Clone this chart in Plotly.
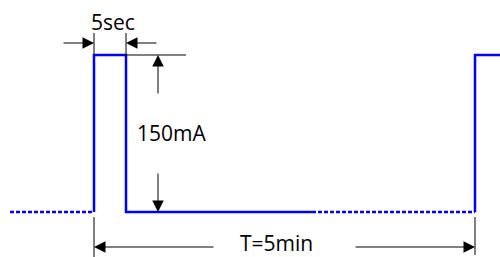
import plotly.graph_objects as go

# ---- data (time axis in arbitrary drawing units, current in mA) ----
LOW_MA = 0
HIGH_MA = 150
pulse_t = [94, 94, 126, 126, 312]
pulse_i = [LOW_MA, HIGH_MA, HIGH_MA, LOW_MA, LOW_MA]
idle_before_t = [10, 94]
idle_before_i = [LOW_MA, LOW_MA]
idle_after_t = [312, 475]
idle_after_i = [LOW_MA, LOW_MA]
next_t = [475, 475, 500]
next_i = [LOW_MA, HIGH_MA, HIGH_MA]

label_width = "5sec"
label_amp = "150mA"
label_period = "T=5min"

# pixel -> mA helper for the page layout (low at px 212, high at px 55)
def py(p):
    return (212 - p) * (HIGH_MA - LOW_MA) / (212 - 55) + LOW_MA

BLUE = "#0000FF"
fig = go.Figure()
fig.add_trace(go.Scatter(x=pulse_t, y=pulse_i, mode="lines",
                         line=dict(color=BLUE, width=2.5), hoverinfo="skip"))
fig.add_trace(go.Scatter(x=idle_before_t, y=idle_before_i, mode="lines",
                         line=dict(color=BLUE, width=2.5, dash="4px,2px"), hoverinfo="skip"))
fig.add_trace(go.Scatter(x=idle_after_t, y=idle_after_i, mode="lines",
                         line=dict(color=BLUE, width=2.5, dash="4px,2px"), hoverinfo="skip"))
fig.add_trace(go.Scatter(x=next_t, y=next_i, mode="lines",
                         line=dict(color=BLUE, width=2.5), hoverinfo="skip"))

blk = dict(color="black", width=1)
# extension lines
fig.add_shape(type="line", x0=94, x1=94, y0=py(33), y1=py(55), line=blk)
fig.add_shape(type="line", x0=126, x1=126, y0=py(33), y1=py(55), line=blk)
fig.add_shape(type="line", x0=126, x1=186, y0=py(55), y1=py(55), line=blk)
fig.add_shape(type="line", x0=94, x1=94, y0=py(217), y1=py(257), line=blk)
fig.add_shape(type="line", x0=475, x1=475, y0=py(217), y1=py(255), line=blk)

def arrow(x0, y0, x1, y1):
    fig.add_annotation(x=x1, y=py(y1), ax=x0, ay=py(y0), xref="x", yref="y",
                       axref="x", ayref="y", text="", showarrow=True,
                       arrowhead=2, arrowsize=2.3, arrowwidth=1, arrowcolor="black")

arrow(62, 43, 94, 43)
arrow(158, 43, 126, 43)
arrow(158, 95, 158, 55)
arrow(158, 172, 158, 212)
arrow(215, 247, 94, 247)
arrow(354, 247, 475, 247)

font = dict(family="Open Sans", size=21, color="black")
fig.add_annotation(x=112.5, y=py(22), text=label_width, showarrow=False, font=font,
                   xanchor="center", yanchor="middle")
fig.add_annotation(x=171.5, y=py(133), text=label_amp, showarrow=False, font=font,
                   xanchor="center", yanchor="middle")
fig.add_annotation(x=276.5, y=py(242.5), text=label_period, showarrow=False, font=font,
                   xanchor="center", yanchor="middle")

fig.update_layout(width=500, height=257, margin=dict(l=0, r=0, t=0, b=0),
                  plot_bgcolor="white", paper_bgcolor="white", showlegend=False,
                  xaxis=dict(range=[0, 500], visible=False, fixedrange=True),
                  yaxis=dict(range=[py(257), py(0)], visible=False, fixedrange=True))
fig.write_html("out.html", config={"displayModeBar": False},
               post_script="document.body.style.margin='0';document.body.style.overflow='hidden';")
